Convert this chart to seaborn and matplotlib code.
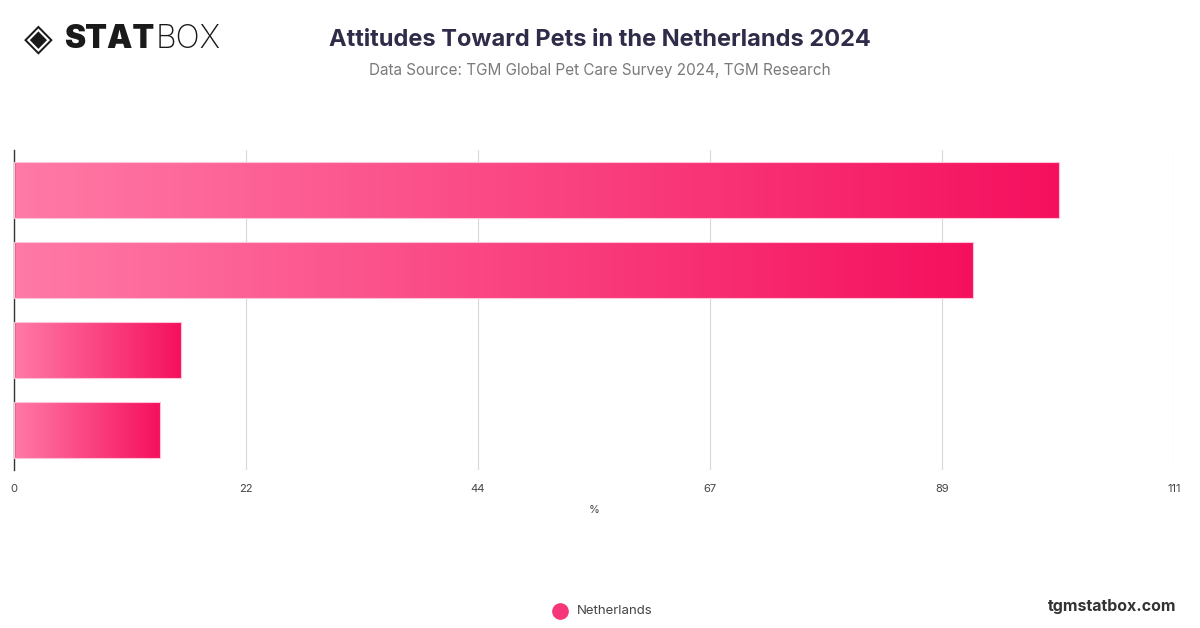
import numpy as np
import pandas as pd
import seaborn as sns
import matplotlib.pyplot as plt
from matplotlib.colors import LinearSegmentedColormap

# chart values (category labels are not shown in the original)
statements = ['Statement A', 'Statement B', 'Statement C', 'Statement D']
netherlands = [100, 91.8, 16, 14]
tick_values = [0, 22.2, 44.4, 66.6, 88.8, 111]
tick_labels = ['0', '22', '44', '67', '89', '111']

df = pd.DataFrame({'statement': statements, 'value': netherlands})

sns.set_style('white')
plt.rcParams['font.family'] = ['Inter', 'DejaVu Sans']

fig = plt.figure(figsize=(12, 6.28), dpi=100)
ax = fig.add_axes([14 / 1200, 1 - 470 / 628, 1160 / 1200, 320 / 628])

sns.barplot(data=df, y='statement', x='value', orient='h', width=0.69,
            color='#f7266b', ax=ax)

# gradient fill, light pink -> deep pink over each bar
cmap = LinearSegmentedColormap.from_list('pink', ['#ff7aa6', '#f5105e'])
grad = np.linspace(0, 1, 256).reshape(1, -1)
for bar in ax.patches:
    x0, y0 = bar.get_x(), bar.get_y()
    w, h = bar.get_width(), bar.get_height()
    bar.set_facecolor('none')
    bar.set_edgecolor('#ffc4d8')
    bar.set_linewidth(0.8)
    im = ax.imshow(grad, cmap=cmap, aspect='auto', extent=[x0, x0 + w, y0 + h, y0],
                   zorder=2)
    im.set_clip_path(bar)
    bar.set_zorder(3)

ax.set_xlim(0, 111)
ax.set_ylim(3.5, -0.5)
ax.set_xticks(tick_values)
ax.set_xticklabels(tick_labels, fontsize=8, color='#444444')
ax.tick_params(axis='x', length=0, pad=10)
ax.set_yticks([])
ax.set_ylabel('')
ax.set_xlabel('%', fontsize=8, color='#444444', labelpad=8)
ax.grid(axis='x', color='#d9d9d9', linewidth=0.8)
ax.set_axisbelow(True)
for s in ['top', 'right', 'bottom']:
    ax.spines[s].set_visible(False)
ax.spines['left'].set_color('#333333')
ax.spines['left'].set_linewidth(1.0)

# titles
fig.text(0.5, 1 - 40 / 628, 'Attitudes Toward Pets in the Netherlands 2024',
         ha='center', va='center', fontsize=17, fontweight='bold', color='#2e2c48')
fig.text(0.5, 1 - 71 / 628, 'Data Source: TGM Global Pet Care Survey 2024, TGM Research',
         ha='center', va='center', fontsize=11, color='#7a7a7a')

# logo
fig.text(24 / 1200, 1 - 40 / 628, '◈', ha='left', va='center', fontsize=27,
         color='#1a1a1a', family=['DejaVu Sans'])
stat = fig.text(64 / 1200, 1 - 40 / 628, 'STAT', ha='left', va='center', fontsize=23,
                fontweight='black', color='#1a1a1a')
fig.canvas.draw()
bb = stat.get_window_extent().transformed(fig.transFigure.inverted())
fig.text(bb.x1 + 1 / 1200, 1 - 40 / 628, 'BOX', ha='left', va='center', fontsize=23,
         fontweight='light', color='#1a1a1a')

# legend and footer
fig.add_artist(plt.Line2D([560 / 1200], [1 - 611 / 628], marker='o', markersize=11,
                          color='#f7357a', transform=fig.transFigure))
fig.text(577 / 1200, 1 - 611 / 628, 'Netherlands', ha='left', va='center',
         fontsize=9.5, color='#444444')
fig.text(1176 / 1200, 1 - 606 / 628, 'tgmstatbox.com', ha='right', va='center',
         fontsize=11.5, fontweight='bold', color='#333333')

fig.savefig('out.png', dpi=100)
